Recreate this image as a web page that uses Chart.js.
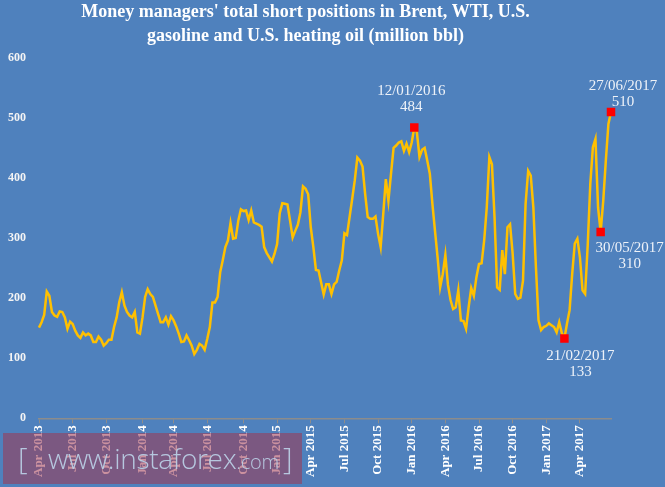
<!DOCTYPE html>
<html>
<head>
<meta charset="utf-8">
<title>Money managers' short positions</title>
<script src="https://cdn.jsdelivr.net/npm/chart.js@4.4.1/dist/chart.umd.min.js"></script>
<style>
  html, body { margin: 0; padding: 0; background: #4F81BD; overflow: hidden; }
  #wrap { position: relative; width: 665px; height: 487px; }
  #stamp {
    position: absolute; left: 3px; top: 433px; width: 299px; height: 51px;
    background: rgba(160, 55, 80, 0.55);
    color: rgba(185, 205, 228, 0.95);
    font-family: 'Open Sans', sans-serif; font-weight: 300;
    white-space: nowrap;
  }
  #stamp span.b { position: absolute; top: 4px; font-size: 30px; }
  #stamp span.t { position: absolute; left: 45px; top: 6px; font-size: 28px; letter-spacing: -0.3px; }
  #stamp small { font-size: 20px; }
</style>
</head>
<body>
<div id="wrap">
  <canvas id="chart" width="665" height="487"></canvas>
  <div id="stamp"><span class="b" style="left:15px">[</span><span class="t">www.instaforex<small>.com</small></span><span class="b" style="left:280px">]</span></div>
</div>
<script>
// weekly readings, first week = 02/04/2013, million bbl
const shortPositions = [
  151, 160, 172, 211, 204, 177, 171, 169, 178, 177,
  168, 149, 161, 157, 146, 138, 134, 143, 138, 141,
  138, 127, 127, 136, 131, 121, 125, 131, 131, 152,
  168, 193, 210, 188, 177, 171, 168, 177, 143, 141,
  168, 202, 215, 207, 202, 188, 174, 160, 160, 168,
  156, 170, 163, 153, 141, 127, 128, 138, 130, 121,
  107, 114, 124, 121, 114, 132, 152, 193, 193, 202,
  243, 263, 285, 296, 325, 299, 300, 329, 348, 345,
  346, 330, 346, 326, 324, 322, 319, 285, 275, 268,
  261, 274, 290, 341, 358, 357, 356, 329, 301, 312,
  322, 343, 386, 382, 373, 318, 285, 247, 246, 226,
  206, 223, 223, 207, 223, 227, 246, 263, 308, 305,
  335, 365, 396, 434, 429, 419, 374, 335, 332, 332,
  336, 307, 285, 340, 398, 362, 407, 450, 454, 459,
  461, 445, 457, 443, 459, 484, 476, 435, 447, 450,
  429, 407, 357, 312, 268, 218, 240, 272, 222, 197,
  182, 185, 213, 163, 162, 149, 185, 217, 204, 235,
  257, 258, 296, 351, 435, 423, 335, 218, 214, 280,
  240, 318, 323, 274, 207, 199, 201, 229, 357, 412,
  404, 351, 251, 163, 147, 152, 154, 158, 155, 152,
  143, 160, 142, 133, 158, 180, 240, 291, 299, 268,
  213, 207, 288, 390, 451, 465, 351, 310, 362, 429,
  490, 510
];

const quarterTickLabels = [
  'Apr 2013', 'Jul 2013', 'Oct 2013', 'Jan 2014', 'Apr 2014', 'Jul 2014',
  'Oct 2014', 'Jan 2015', 'Apr 2015', 'Jul 2015', 'Oct 2015', 'Jan 2016',
  'Apr 2016', 'Jul 2016', 'Oct 2016', 'Jan 2017', 'Apr 2017'
];

const highlightDates = ['12/01/2016', '21/02/2017', '30/05/2017', '27/06/2017'];

const yTicks = [0, 100, 200, 300, 400, 500, 600];

// weekly category labels (Tuesdays)
const pad2 = n => (n < 10 ? '0' : '') + n;
const categories = [];
const tickText = {};
let q = 0;
for (let i = 0; i < shortPositions.length; i++) {
  const d = new Date(Date.UTC(2013, 3, 2 + i * 7));
  categories.push(pad2(d.getUTCDate()) + '/' + pad2(d.getUTCMonth() + 1) + '/' + d.getUTCFullYear());
  if (d.getUTCDate() <= 7 && d.getUTCMonth() % 3 === 0) tickText[i] = quarterTickLabels[q++];
}

const highlightIdx = highlightDates.map(s => categories.indexOf(s));
const highlightData = categories.map((c, i) => highlightIdx.includes(i) ? shortPositions[i] : null);

// where each callout sits relative to its marker: [dx, dy of first line]
const calloutPos = {
  '12/01/2016': [-3, -36],
  '21/02/2017': [16, 18],
  '30/05/2017': [29, 16],
  '27/06/2017': [12, -26]
};

const callouts = {
  id: 'callouts',
  afterDatasetsDraw(chart) {
    const { ctx, scales } = chart;
    ctx.save();
    ctx.fillStyle = '#EEF2F8';
    ctx.font = '15px "Liberation Serif", serif';
    ctx.textAlign = 'center';
    ctx.textBaseline = 'middle';
    highlightIdx.forEach(i => {
      const [dx, dy] = calloutPos[categories[i]];
      const x = scales.x.getPixelForValue(i) + dx;
      const y = scales.y.getPixelForValue(shortPositions[i]) + dy;
      ctx.fillText(categories[i], x, y);
      ctx.fillText(String(shortPositions[i]), x, y + 16);
    });
    ctx.restore();
  }
};

const serif = '"Liberation Serif", "DejaVu Serif", serif';

new Chart(document.getElementById('chart'), {
  type: 'line',
  data: {
    labels: categories,
    datasets: [
      {
        label: 'highlights',
        data: highlightData,
        showLine: false,
        pointStyle: 'rect',
        pointRadius: 6,
        pointBorderWidth: 0,
        pointBackgroundColor: '#FF0000',
        pointBorderColor: '#FF0000',
        order: 0
      },
      {
        label: 'Short positions',
        data: shortPositions,
        borderColor: '#FFC000',
        borderWidth: 2.5,
        pointRadius: 0,
        tension: 0,
        fill: false,
        order: 1
      }
    ]
  },
  options: {
    responsive: false,
    animation: false,
    layout: { padding: { left: 0, right: 54, top: 0, bottom: 8 } },
    plugins: {
      legend: { display: false },
      tooltip: { enabled: false },
      title: {
        display: true,
        text: ["Money managers' total short positions in Brent, WTI, U.S.", 'gasoline and U.S. heating oil (million bbl)'],
        color: '#FFFFFF',
        font: { family: serif, size: 18, weight: 'bold', lineHeight: 1.3 },
        padding: { top: 1, bottom: 10 }
      }
    },
    scales: {
      x: {
        type: 'category',
        offset: false,
        grid: {
          display: true,
          drawOnChartArea: false,
          tickLength: 5,
          tickColor: c => tickText[c.index] ? '#8C8C8C' : 'rgba(0,0,0,0)'
        },
        border: { display: true, color: '#8C8C8C', width: 1.5 },
        ticks: {
          autoSkip: false,
          minRotation: 90,
          maxRotation: 90,
          padding: 2,
          color: '#FFFFFF',
          font: { family: serif, size: 13, weight: 'bold' },
          callback: (v, i) => tickText[i] || ''
        }
      },
      y: {
        min: yTicks[0],
        max: yTicks[yTicks.length - 1],
        afterBuildTicks: axis => { axis.ticks = yTicks.map(v => ({ value: v })); },
        afterFit: axis => { axis.width = 39; },
        grid: { display: false, drawTicks: false },
        border: { display: false },
        ticks: {
          padding: 13,
          color: '#F4F4F4',
          font: { family: serif, size: 12, weight: 'bold' }
        }
      }
    }
  },
  plugins: [callouts]
});
</script>
</body>
</html>
